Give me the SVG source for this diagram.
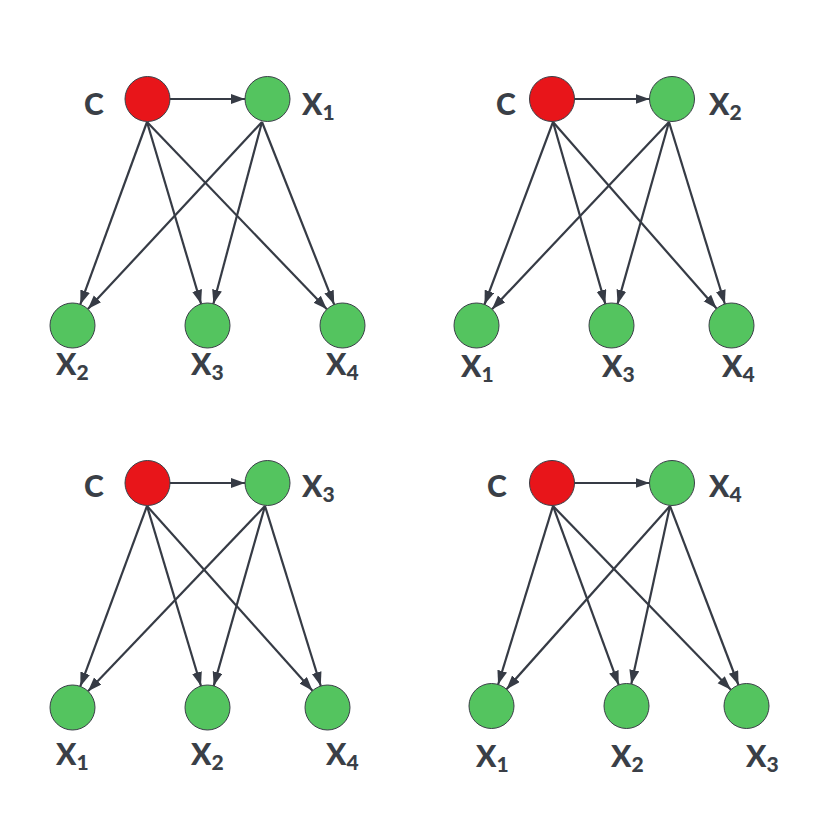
<svg xmlns="http://www.w3.org/2000/svg" width="814" height="824" viewBox="0 0 814 824">
<style>
.c{fill:#e8151a;stroke:#3a3f47;stroke-width:1}
.g{fill:#54c45f;stroke:#3a3f47;stroke-width:1}
.e line{stroke:#363b45;stroke-width:2.2;marker-end:url(#ah)}
text{font-family:Lato,"Liberation Sans",sans-serif;font-weight:900;font-size:30px;fill:#3a3f47}
.s{font-size:21px}
</style>
<defs>
<marker id="ah" markerUnits="userSpaceOnUse" markerWidth="15" markerHeight="11" refX="14" refY="5" orient="auto">
<path d="M0,0 L14,5 L0,10 z" fill="#363b45"/>
</marker>
</defs>
<rect width="814" height="824" fill="#fff"/>
<g class="e" id="connectors">
<line x1="170" y1="99" x2="245" y2="99"/>
<line x1="147" y1="122" x2="80.3" y2="304.4"/>
<line x1="147" y1="122" x2="201.1" y2="303.9"/>
<line x1="147" y1="122" x2="326.9" y2="309.3"/>
<line x1="262" y1="122" x2="87.9" y2="309.1"/>
<line x1="262" y1="122" x2="213.4" y2="303.8"/>
<line x1="262" y1="122" x2="334.2" y2="304.6"/>
<line x1="574.5" y1="99" x2="649.5" y2="99"/>
<line x1="553" y1="122" x2="484.5" y2="304.5"/>
<line x1="553" y1="122" x2="605.3" y2="303.9"/>
<line x1="553" y1="122" x2="716.6" y2="308.6"/>
<line x1="669" y1="122" x2="492" y2="309.2"/>
<line x1="669" y1="122" x2="617.6" y2="303.9"/>
<line x1="669" y1="122" x2="724.9" y2="304"/>
<line x1="170" y1="483" x2="245" y2="483"/>
<line x1="147" y1="506" x2="80.3" y2="686.4"/>
<line x1="147" y1="506" x2="201" y2="686"/>
<line x1="147" y1="506" x2="312.5" y2="690.7"/>
<line x1="265" y1="506" x2="88" y2="691.2"/>
<line x1="265" y1="506" x2="213.7" y2="685.9"/>
<line x1="265" y1="506" x2="320.8" y2="686"/>
<line x1="574.5" y1="483" x2="649.5" y2="483"/>
<line x1="553" y1="506" x2="498.1" y2="684.5"/>
<line x1="553" y1="506" x2="618.7" y2="684.9"/>
<line x1="553" y1="506" x2="730.9" y2="689.8"/>
<line x1="670" y1="506" x2="506.5" y2="689.2"/>
<line x1="670" y1="506" x2="631.3" y2="684"/>
<line x1="670" y1="506" x2="738.5" y2="685"/>
</g>
<!-- Panel 1 -->
<g id="p1-C"><circle class="c" cx="147.5" cy="99" r="22.5"/><text x="84" y="115">C</text></g>
<g id="p1-X1"><circle class="g" cx="267.5" cy="99" r="22.5"/><text x="302" y="115">X<tspan class="s" dy="5">1</tspan></text></g>
<g id="p1-X2"><circle class="g" cx="72.5" cy="325.5" r="22.5"/><text x="56" y="375">X<tspan class="s" dy="5">2</tspan></text></g>
<g id="p1-X3"><circle class="g" cx="207.5" cy="325.5" r="22.5"/><text x="191" y="375">X<tspan class="s" dy="5">3</tspan></text></g>
<g id="p1-X4"><circle class="g" cx="342.5" cy="325.5" r="22.5"/><text x="326" y="375">X<tspan class="s" dy="5">4</tspan></text></g>
<!-- Panel 2 -->
<g id="p2-C"><circle class="c" cx="552" cy="99" r="22.5"/><text x="496" y="115">C</text></g>
<g id="p2-X2"><circle class="g" cx="672" cy="99" r="22.5"/><text x="709" y="115">X<tspan class="s" dy="5">2</tspan></text></g>
<g id="p2-X1"><circle class="g" cx="476.5" cy="325.5" r="22.5"/><text x="461" y="377">X<tspan class="s" dy="5">1</tspan></text></g>
<g id="p2-X3"><circle class="g" cx="611.5" cy="325.5" r="22.5"/><text x="602" y="377">X<tspan class="s" dy="5">3</tspan></text></g>
<g id="p2-X4"><circle class="g" cx="731.5" cy="325.5" r="22.5"/><text x="722" y="377">X<tspan class="s" dy="5">4</tspan></text></g>
<!-- Panel 3 -->
<g id="p3-C"><circle class="c" cx="147.5" cy="483" r="22.5"/><text x="84" y="497">C</text></g>
<g id="p3-X3"><circle class="g" cx="267.5" cy="483" r="22.5"/><text x="302" y="497">X<tspan class="s" dy="5">3</tspan></text></g>
<g id="p3-X1"><circle class="g" cx="72.5" cy="707.5" r="22.5"/><text x="56" y="765">X<tspan class="s" dy="5">1</tspan></text></g>
<g id="p3-X2"><circle class="g" cx="207.5" cy="707.5" r="22.5"/><text x="191" y="765">X<tspan class="s" dy="5">2</tspan></text></g>
<g id="p3-X4"><circle class="g" cx="327.5" cy="707.5" r="22.5"/><text x="326" y="765">X<tspan class="s" dy="5">4</tspan></text></g>
<!-- Panel 4 -->
<g id="p4-C"><circle class="c" cx="552" cy="483" r="22.5"/><text x="487" y="497">C</text></g>
<g id="p4-X4"><circle class="g" cx="672" cy="483" r="22.5"/><text x="709" y="497">X<tspan class="s" dy="5">4</tspan></text></g>
<g id="p4-X1"><circle class="g" cx="491.5" cy="706" r="22.5"/><text x="476" y="767">X<tspan class="s" dy="5">1</tspan></text></g>
<g id="p4-X2"><circle class="g" cx="626.5" cy="706" r="22.5"/><text x="611" y="767">X<tspan class="s" dy="5">2</tspan></text></g>
<g id="p4-X3"><circle class="g" cx="746.5" cy="706" r="22.5"/><text x="746" y="767">X<tspan class="s" dy="5">3</tspan></text></g>
</svg>
